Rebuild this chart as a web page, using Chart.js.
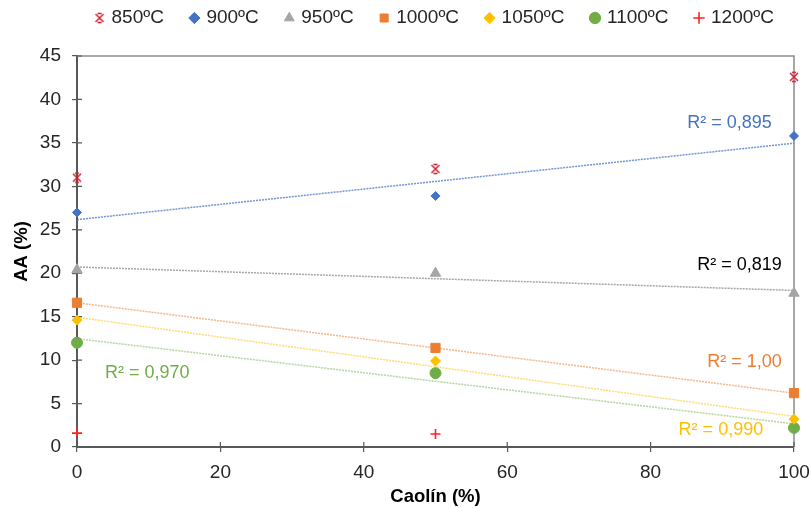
<!DOCTYPE html>
<html><head><meta charset="utf-8">
<script src="https://cdn.jsdelivr.net/npm/chart.js@4.4.1/dist/chart.umd.min.js"></script>
<style>html,body{margin:0;padding:0;background:#fff}#wrap{width:811px;height:508px}</style>
</head><body><div id="wrap"><canvas id="c" width="811" height="508"></canvas></div>
<script>
const caolin = [0, 50, 100];
const seriesNames = ['850ºC','900ºC','950ºC','1000ºC','1050ºC','1100ºC','1200ºC'];
const aa850  = [31.0, 32.0, 42.6];
const aa900  = [27.0, 28.9, 35.8];
const aa950  = [20.4, 20.0, 17.7];
const aa1000 = [16.6, 11.4, 6.2];
const aa1050 = [14.6, 9.9, 3.2];
const aa1100 = [12.0, 8.5, 2.2];
const aa1200 = [1.6, 1.5, null];
const r2Labels = ['R² = 0,895','R² = 0,819','R² = 1,00','R² = 0,990','R² = 0,970'];
const yTicks = [0,5,10,15,20,25,30,35,40,45];
const xTicks = [0,20,40,60,80,100];

const FONT = "'Liberation Sans', Arial, sans-serif";

// custom marker for 850 (X with short caps)
function starMarker(color){
  const c = document.createElement('canvas'); c.width = 12; c.height = 12;
  const g = c.getContext('2d'); g.strokeStyle = color; g.lineWidth = 1.5;
  g.beginPath();
  g.moveTo(2,2); g.lineTo(10,10); g.moveTo(10,2); g.lineTo(2,10);
  g.moveTo(4,1.5); g.lineTo(8,1.5); g.moveTo(4,10.5); g.lineTo(8,10.5);
  g.stroke();
  return c;
}

function pts(arr){ return arr.map((v,i)=>({x:caolin[i], y:v})).filter(p=>p.y!==null); }
function fit(arr){
  const p = pts(arr); const n = p.length;
  const mx = p.reduce((s,q)=>s+q.x,0)/n, my = p.reduce((s,q)=>s+q.y,0)/n;
  let sxy=0,sxx=0; p.forEach(q=>{sxy+=(q.x-mx)*(q.y-my); sxx+=(q.x-mx)**2;});
  const m = sxy/sxx, b = my - m*mx;
  return [{x:0,y:b},{x:100,y:b+100*m}];
}

const styles = [
  {data:aa850,  color:'#D0202E', ps:starMarker('#D0202E'), r:6},
  {data:aa900,  color:'#4472C4', ps:'rectRot', r:4.5},
  {data:aa950,  color:'#A5A5A5', ps:'triangle', r:6},
  {data:aa1000, color:'#ED7D31', ps:'rect', r:6.5},
  {data:aa1050, color:'#FFC000', ps:'rectRot', r:5},
  {data:aa1100, color:'#70AD47', ps:'circle', r:5.5},
  {data:aa1200, color:'#FF2020', ps:'cross', r:5},
];

const datasets = styles.map((s,i)=>({
  label: seriesNames[i], data: pts(s.data), showLine:false, clip:false,
  pointStyle: s.ps, pointRadius: s.r, pointHoverRadius: s.r,
  backgroundColor: s.color, borderColor: s.color,
  borderWidth: (s.ps==='cross')?1.6:1, order: 1
}));
const trends = [
  {data:aa900,  color:'rgba(68,114,196,0.75)'},
  {data:aa950,  color:'rgba(150,150,150,0.85)'},
  {data:aa1000, color:'rgba(237,125,49,0.55)'},
  {data:aa1050, color:'rgba(255,192,0,0.55)'},
  {data:aa1100, color:'rgba(112,173,71,0.5)'},
];
trends.forEach(t=>datasets.push({
  label:'trend', data: fit(t.data), showLine:true, pointRadius:0, clip:false,
  borderColor:t.color, borderWidth:1.5, borderDash:[2,1], fill:false, order: 2
}));

const r2Pos = [
  {x:96.9, y:37.3, color:'#4472C4', align:'right'},
  {x:98.3, y:20.9, color:'#000000', align:'right'},
  {x:98.3, y:9.8,  color:'#ED7D31', align:'right'},
  {x:95.7, y:2.0,  color:'#FFC000', align:'right'},
  {x:3.9,  y:8.5,  color:'#70AD47', align:'left'},
];

const decor = {
  id:'decor',
  afterLayout(chart){
    // centre the legend over the plot area and lift its row
    const lg = chart.legend, a = chart.chartArea;
    if (lg){
      const h = lg.height, cx = (a.left + a.right) / 2;
      lg.left = cx - 390; lg.right = cx + 390; lg.width = 780;
      lg.top = -19.5; lg.bottom = lg.top + h;
    }
  },
  beforeDatasetsDraw(chart){
    const {ctx, chartArea:a} = chart;
    ctx.save();
    ctx.strokeStyle = '#8c8c8c'; ctx.lineWidth = 1.5;
    ctx.beginPath(); ctx.moveTo(a.left, a.top); ctx.lineTo(a.right, a.top); ctx.lineTo(a.right, a.bottom); ctx.stroke();
    ctx.strokeStyle = '#595959'; ctx.lineWidth = 1.2;
    const xs = chart.scales.x, ys = chart.scales.y;
    ctx.beginPath();
    xTicks.forEach(v=>{const px = xs.getPixelForValue(v); ctx.moveTo(px, a.bottom); ctx.lineTo(px, a.bottom-5);});
    yTicks.forEach(v=>{const py = ys.getPixelForValue(v); ctx.moveTo(a.left, py); ctx.lineTo(a.left+5, py);});
    ctx.stroke();
    ctx.restore();
  },
  afterDatasetsDraw(chart){
    const {ctx} = chart; const xs = chart.scales.x, ys = chart.scales.y;
    ctx.save(); ctx.font = '18px ' + FONT; ctx.textBaseline = 'middle';
    r2Pos.forEach((p,i)=>{
      ctx.fillStyle = p.color; ctx.textAlign = p.align;
      ctx.fillText(r2Labels[i], xs.getPixelForValue(p.x), ys.getPixelForValue(p.y));
    });
    ctx.restore();
  }
};

new Chart(document.getElementById('c'), {
  type:'scatter',
  data:{datasets},
  plugins:[decor],
  options:{
    responsive:false, animation:false,
    layout:{padding:{left:0, right:0, top:-1, bottom:0}},
    plugins:{
      legend:{
        position:'top',
        labels:{
          usePointStyle:true, boxHeight:8, boxWidth:5, padding:28,
          font:{family:FONT, size:19}, color:'#262626',
          filter:(item)=>item.text!=='trend'
        }
      },
      tooltip:{enabled:false}
    },
    scales:{
      x:{
        type:'linear', min:0, max:100,
        afterBuildTicks(s){ s.ticks = xTicks.map(v=>({value:v})); },
        ticks:{font:{family:FONT, size:19}, color:'#262626', padding:9},
        grid:{drawOnChartArea:false, drawTicks:true, tickLength:5, color:'#595959', lineWidth:1.2},
        border:{color:'#595959', width:2},
        title:{display:true, text:'Caolín (%)', font:{family:FONT, size:18.5, weight:'bold'}, color:'#000', padding:{top:2,bottom:0}},
        afterFit(s){ s.height = 61; s.paddingRight = 17; s.paddingLeft = 0; }
      },
      y:{
        type:'linear', min:0, max:45,
        afterBuildTicks(s){ s.ticks = yTicks.map(v=>({value:v})); },
        ticks:{font:{family:FONT, size:19}, color:'#262626', padding:11},
        grid:{drawOnChartArea:false, drawTicks:true, tickLength:5, color:'#595959', lineWidth:1.2},
        border:{color:'#595959', width:2},
        title:{display:true, text:'AA (%)', font:{family:FONT, size:18.5, weight:'bold'}, color:'#000', padding:{top:11,bottom:0}},
        afterFit(s){ s.width = 77; }
      }
    }
  }
});
</script>
</body></html>
